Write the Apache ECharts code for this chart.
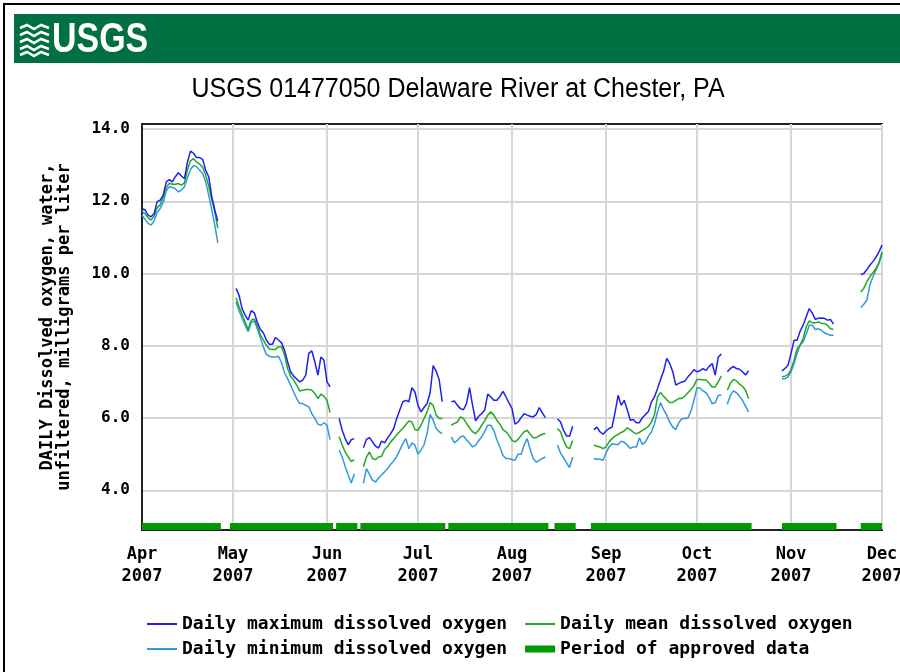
<!DOCTYPE html>
<html>
<head>
<meta charset="utf-8">
<script src="https://cdn.jsdelivr.net/npm/echarts@6/dist/echarts.min.js"></script>
<style>
  html, body { margin: 0; padding: 0; background: #fff; }
  #chart { width: 900px; height: 672px; }
</style>
</head>
<body>
<div id="chart"></div>
<script>
// ---------------- DATA ----------------
// Daily values, one entry per day starting 2007-04-01 (null = no data)
const firstDay = [2007, 3, 1];

const maxDO = [
  // Apr 1 - Apr 26
  11.80, 11.76, 11.62, 11.57, 11.66, 11.99, 12.03, 12.17, 12.54, 12.60, 12.54, 12.68, 12.79, 12.70, 12.63, 13.09, 13.39, 13.33, 13.21, 13.21, 13.16, 12.86, 12.68, 12.13, 11.76, 11.45,
  null, null, null, null, null,
  // May 2 - Jun 2
  9.59, 9.40, 9.03, 8.85, 8.71, 8.97, 8.92, 8.66, 8.46, 8.36, 8.16, 8.04, 8.04, 8.23, 8.16, 8.08, 7.88, 7.56, 7.28, 7.16, 7.08, 7.00, 7.05, 7.19, 7.79, 7.86, 7.55, 7.19, 7.69, 7.60, 7.00, 6.86,
  null, null,
  5.99, 5.66, 5.43, 5.26, 5.40, 5.43,
  null, null,
  5.18, 5.41, 5.46, 5.34, 5.22, 5.17, 5.36, 5.31, 5.45, 5.57, 5.71, 5.99, 6.22, 6.45, 6.49, 6.45, 6.84, 6.72, 6.35, 6.17, 6.29, 6.40, 6.70, 7.45, 7.30, 7.05, 6.45,
  null, null,
  6.45, 6.47, 6.35, 6.26, 6.23, 6.40, 6.84, 6.35, 5.92, 6.05, 6.12, 6.22, 6.66, 6.59, 6.49, 6.49, 6.59, 6.74, 6.59, 6.42, 6.26, 5.83, 5.89, 6.01, 6.12, 6.08, 6.05, 6.03, 6.10, 6.29, 6.14, 6.01,
  null, null, null,
  5.98, 5.89, 5.66, 5.50, 5.50, 5.77,
  null, null, null, null, null, null,
  5.68, 5.75, 5.62, 5.55, 5.64, 5.71, 5.75, 6.17, 6.63, 6.35, 6.49, 6.23, 5.94, 5.96, 5.87, 5.87, 6.01, 6.10, 6.18, 6.45, 6.59, 6.82, 7.07, 7.30, 7.65, 7.51, 7.28, 6.91, 6.96, 7.00, 7.02, 7.14, 7.23, 7.34, 7.28, 7.31, 7.37, 7.32, 7.43, 7.51, 7.19, 7.68, 7.77,
  null,
  7.28, 7.37, 7.43, 7.37, 7.35, 7.28, 7.19, 7.31,
  null, null, null, null, null, null, null, null, null, null,
  7.30, 7.37, 7.46, 7.79, 8.15, 8.15, 8.40, 8.57, 8.80, 9.03, 8.91, 8.73, 8.76, 8.77, 8.76, 8.71, 8.73, 8.60,
  null, null, null, null, null, null, null, null,
  9.97, 10.00, 10.11, 10.23, 10.33, 10.45, 10.60, 10.79
];

const meanDO = [
  11.73, 11.65, 11.55, 11.48, 11.59, 11.83, 11.90, 12.11, 12.38, 12.50, 12.47, 12.47, 12.49, 12.45, 12.51, 12.88, 13.12, 13.18, 13.09, 13.03, 12.94, 12.73, 12.42, 12.05, 11.71, 11.25,
  null, null, null, null, null,
  9.33, 9.08, 8.87, 8.66, 8.45, 8.71, 8.74, 8.55, 8.31, 8.16, 8.02, 7.91, 7.90, 7.90, 7.97, 7.97, 7.74, 7.37, 7.16, 7.05, 6.91, 6.75, 6.77, 6.79, 6.79, 6.77, 6.68, 6.54, 6.66, 6.60, 6.49, 6.15,
  null, null,
  5.48, 5.25, 5.06, 4.92, 4.80, 4.85,
  null, null,
  4.65, 4.92, 5.06, 4.88, 4.85, 4.92, 4.94, 5.13, 5.22, 5.34, 5.43, 5.54, 5.63, 5.71, 5.82, 5.92, 5.89, 5.68, 5.66, 5.80, 5.99, 6.17, 6.43, 6.35, 6.08, 5.99, 5.99,
  null, null,
  5.80, 5.85, 5.89, 6.03, 5.99, 5.85, 5.73, 5.62, 5.57, 5.66, 5.80, 5.92, 6.08, 6.17, 6.08, 5.94, 5.83, 5.68, 5.62, 5.52, 5.38, 5.34, 5.41, 5.52, 5.62, 5.66, 5.55, 5.45, 5.46, 5.51, 5.55, 5.57,
  null, null, null,
  5.71, 5.62, 5.38, 5.20, 5.15, 5.38,
  null, null, null, null, null, null,
  5.25, 5.22, 5.20, 5.15, 5.20, 5.34, 5.43, 5.50, 5.55, 5.60, 5.64, 5.73, 5.68, 5.61, 5.56, 5.60, 5.66, 5.71, 5.77, 5.89, 6.10, 6.59, 6.71, 6.60, 6.51, 6.43, 6.43, 6.49, 6.54, 6.54, 6.61, 6.70, 6.79, 6.89, 7.07, 7.07, 7.05, 7.05, 6.96, 6.86, 6.86, 7.00, 7.16,
  null,
  6.77, 6.96, 7.07, 7.03, 6.94, 6.88, 6.77, 6.54,
  null, null, null, null, null, null, null, null, null, null,
  7.14, 7.16, 7.20, 7.34, 7.60, 7.92, 8.02, 8.20, 8.52, 8.69, 8.64, 8.64, 8.66, 8.62, 8.62, 8.57, 8.47, 8.45,
  null, null, null, null, null, null, null, null,
  9.49, 9.59, 9.77, 9.91, 10.02, 10.14, 10.30, 10.60
];

const minDO = [
  11.62, 11.50, 11.39, 11.34, 11.46, 11.69, 11.80, 11.96, 12.29, 12.40, 12.38, 12.35, 12.26, 12.31, 12.40, 12.66, 12.88, 12.99, 12.96, 12.86, 12.77, 12.54, 12.17, 11.76, 11.34, 10.85,
  null, null, null, null, null,
  9.22, 8.97, 8.76, 8.57, 8.39, 8.64, 8.69, 8.48, 8.23, 7.97, 7.76, 7.71, 7.69, 7.69, 7.71, 7.53, 7.25, 7.09, 6.91, 6.72, 6.54, 6.40, 6.40, 6.35, 6.31, 6.12, 5.99, 5.83, 5.80, 5.87, 5.80, 5.40,
  null, null,
  5.11, 4.92, 4.65, 4.42, 4.20, 4.46,
  null, null,
  4.19, 4.60, 4.44, 4.28, 4.23, 4.34, 4.43, 4.51, 4.60, 4.72, 4.81, 4.94, 5.11, 5.29, 5.43, 5.15, 5.31, 5.25, 5.00, 5.11, 5.26, 5.57, 6.10, 5.94, 5.71, 5.62, 5.57,
  null, null,
  5.48, 5.31, 5.38, 5.48, 5.50, 5.40, 5.31, 5.20, 5.25, 5.37, 5.48, 5.63, 5.80, 5.80, 5.66, 5.40, 5.20, 4.97, 4.88, 4.88, 4.85, 4.83, 5.00, 5.00, 5.25, 5.43, 5.13, 4.88, 4.78, 4.83, 4.88, 4.92,
  null, null, null,
  5.25, 5.03, 4.90, 4.76, 4.63, 4.92,
  null, null, null, null, null, null,
  4.88, 4.86, 4.86, 4.83, 5.03, 5.20, 5.29, 5.27, 5.27, 5.36, 5.33, 5.25, 5.16, 5.20, 5.20, 5.45, 5.27, 5.34, 5.50, 5.62, 5.85, 6.17, 6.42, 6.23, 6.08, 5.89, 5.75, 5.68, 5.87, 5.98, 5.99, 6.00, 6.19, 6.49, 6.84, 6.83, 6.75, 6.70, 6.57, 6.40, 6.42, 6.63, 6.63,
  null,
  6.38, 6.63, 6.75, 6.70, 6.60, 6.49, 6.33, 6.17,
  null, null, null, null, null, null, null, null, null, null,
  7.09, 7.09, 7.14, 7.28, 7.51, 7.79, 8.02, 8.11, 8.32, 8.57, 8.57, 8.45, 8.47, 8.43, 8.36, 8.32, 8.29, 8.29,
  null, null, null, null, null, null, null, null,
  9.06, 9.15, 9.26, 9.68, 9.91, 10.09, 10.28, 10.56
];

// Periods of approved data
const approvedStart = ['2007-04-01', '2007-04-30', '2007-06-04', '2007-06-12', '2007-07-11', '2007-08-15', '2007-08-27', '2007-10-29', '2007-11-24'];
const approvedEnd   = ['2007-04-27', '2007-06-03', '2007-06-11', '2007-07-10', '2007-08-13', '2007-08-22', '2007-10-19', '2007-11-16', '2007-12-01'];

// Axis ticks / labels
const monthTicks  = ['2007-04-01', '2007-05-01', '2007-06-01', '2007-07-01', '2007-08-01', '2007-09-01', '2007-10-01', '2007-11-01', '2007-12-01'];
const monthLabels = ['Apr\n2007', 'May\n2007', 'Jun\n2007', 'Jul\n2007', 'Aug\n2007', 'Sep\n2007', 'Oct\n2007', 'Nov\n2007', 'Dec\n2007'];
const yTicks = [4, 6, 8, 10, 12, 14];

const seriesNames = ['Daily maximum dissolved oxygen', 'Daily mean dissolved oxygen', 'Daily minimum dissolved oxygen', 'Period of approved data'];
const titleText = 'USGS 01477050 Delaware River at Chester, PA';
const yNameLine1 = 'DAILY Dissolved oxygen, water,';
const yNameLine2 = 'unfiltered, milligrams per liter';

// ---------------- BUILD ----------------
function toTs(s) { const p = s.split('-').map(Number); return new Date(p[0], p[1] - 1, p[2]).getTime(); }
function dayTs(i) { return new Date(firstDay[0], firstDay[1], firstDay[2] + i).getTime(); }
function pairs(arr) { return arr.map((v, i) => [dayTs(i), v == null ? '-' : v]); }

const APPROVED_LEVEL = 3.0;
const approvedData = [];
approvedStart.forEach((s, i) => {
  approvedData.push([toTs(s), APPROVED_LEVEL]);
  approvedData.push([toTs(approvedEnd[i]), APPROVED_LEVEL]);
  approvedData.push([toTs(approvedEnd[i]), '-']);
});

const monthTs = monthTicks.map(toTs);
const MONO = '"DejaVu Sans Mono", "Liberation Mono", monospace';
const COLORS = ['#1f1ff0', '#22a822', '#3399dd', '#009900'];
const LINE_ICON = 'path://M0,0H30V2H0Z';
const BAR_ICON = 'path://M0,0H30V7H0Z';

const chart = echarts.init(document.getElementById('chart'), null, { renderer: 'canvas' });

const legendText = { fontFamily: MONO, fontWeight: 'bold', fontSize: 18, color: '#000' };

const option = {
  backgroundColor: '#ffffff',
  animation: false,
  grid: {
    left: 142, right: 18, top: 124, bottom: 142,
    show: true, borderColor: '#222', borderWidth: 2, backgroundColor: 'transparent',
    containLabel: false, outerBoundsMode: 'none'
  },
  xAxis: {
    type: 'value',
    min: monthTs[0], max: monthTs[monthTs.length - 1],
    axisLine: { show: true, lineStyle: { color: '#222', width: 2 } },
    axisTick: { show: false, customValues: monthTs },
    axisLabel: {
      customValues: monthTs,
      formatter: function (v) { const k = monthTs.indexOf(v); return k >= 0 ? monthLabels[k] : ''; },
      fontFamily: MONO, fontWeight: 'bold', fontSize: 17, lineHeight: 22, color: '#000', margin: 14
    },
    splitLine: { show: true, lineStyle: { color: '#d6d6d6', width: 2 } }
  },
  yAxis: {
    type: 'value',
    min: 2.9, max: 14.14,
    axisLine: { show: true, lineStyle: { color: '#222', width: 2 } },
    axisTick: { show: false, customValues: yTicks },
    axisLabel: {
      customValues: yTicks,
      formatter: function (v) { return Number(v).toFixed(1); },
      fontFamily: MONO, fontWeight: 'bold', fontSize: 16, color: '#000', margin: 12
    },
    splitLine: { show: true, lineStyle: { color: '#d6d6d6', width: 2 } }
  },
  legend: [
    {
      data: [{ name: seriesNames[0], icon: LINE_ICON }, { name: seriesNames[1], icon: LINE_ICON }],
      left: 147, top: 615, padding: 0, orient: 'horizontal',
      itemWidth: 30, itemHeight: 14, itemGap: 18, selectedMode: false,
      textStyle: legendText
    },
    {
      data: [{ name: seriesNames[2], icon: LINE_ICON }, { name: seriesNames[3], icon: BAR_ICON }],
      left: 147, top: 640, padding: 0, orient: 'horizontal',
      itemWidth: 30, itemHeight: 14, itemGap: 18, selectedMode: false,
      textStyle: legendText
    }
  ],
  graphic: [
    { type: 'rect', shape: { x: 4, y: 4, width: 900, height: 700 }, style: { fill: 'none', stroke: '#000', lineWidth: 2 }, silent: true },
    { type: 'rect', shape: { x: 14, y: 14, width: 886, height: 49 }, style: { fill: '#006f41' }, silent: true },
    {
      type: 'group', x: 20, y: 24, silent: true,
      children: [
        { type: 'polyline', shape: { points: [[0,4],[7,1],[14,5],[21,1],[29,4]] }, style: { stroke: '#fff', lineWidth: 2.5, fill: null } },
        { type: 'polyline', shape: { points: [[0,11],[7,8],[14,12],[21,8],[29,11]] }, style: { stroke: '#fff', lineWidth: 2.5, fill: null } },
        { type: 'polyline', shape: { points: [[0,18],[7,15],[14,19],[21,15],[29,18]] }, style: { stroke: '#fff', lineWidth: 2.5, fill: null } },
        { type: 'polyline', shape: { points: [[0,25],[7,22],[14,26],[21,22],[29,25]] }, style: { stroke: '#fff', lineWidth: 2.5, fill: null } },
        { type: 'polyline', shape: { points: [[0,31],[7,28],[14,32],[21,28],[29,31]] }, style: { stroke: '#fff', lineWidth: 2.5, fill: null } }
      ]
    },
    { type: 'text', x: 52, y: 40, scaleX: 0.79, silent: true, style: { text: 'USGS', fill: '#fff', font: 'bold 43px "Liberation Sans", Arial, sans-serif', textAlign: 'left', textVerticalAlign: 'middle' } },
    { type: 'text', x: 458, y: 90, scaleY: 1.08, silent: true, style: { text: titleText, fill: '#000', font: '25px "Liberation Sans", Arial, sans-serif', textAlign: 'center', textVerticalAlign: 'middle' } },
    { type: 'text', x: 48, y: 317, rotation: Math.PI / 2, silent: true, style: { text: yNameLine1, fill: '#000', font: 'bold 17px ' + MONO, textAlign: 'center', textVerticalAlign: 'middle' } },
    { type: 'text', x: 65, y: 327, rotation: Math.PI / 2, silent: true, style: { text: yNameLine2, fill: '#000', font: 'bold 17px ' + MONO, textAlign: 'center', textVerticalAlign: 'middle' } }
  ],
  series: [
    { name: seriesNames[0], type: 'line', data: pairs(maxDO), showSymbol: false, symbol: 'none', connectNulls: false, lineStyle: { color: COLORS[0], width: 1.5 }, itemStyle: { color: COLORS[0] }, z: 4 },
    { name: seriesNames[1], type: 'line', data: pairs(meanDO), showSymbol: false, symbol: 'none', connectNulls: false, lineStyle: { color: COLORS[1], width: 1.5 }, itemStyle: { color: COLORS[1] }, z: 3 },
    { name: seriesNames[2], type: 'line', data: pairs(minDO), showSymbol: false, symbol: 'none', connectNulls: false, lineStyle: { color: COLORS[2], width: 1.5 }, itemStyle: { color: COLORS[2] }, z: 2 },
    { name: seriesNames[3], type: 'line', data: approvedData, showSymbol: false, symbol: 'none', connectNulls: false, lineStyle: { color: COLORS[3], width: 7, cap: 'butt' }, itemStyle: { color: COLORS[3] }, z: 5 }
  ]
};
chart.setOption(option);
</script>
</body>
</html>
